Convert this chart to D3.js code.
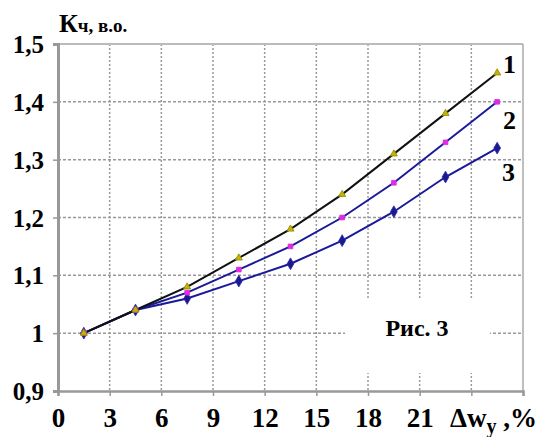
<!DOCTYPE html>
<html><head><meta charset="utf-8">
<script src="https://cdn.jsdelivr.net/npm/d3@7"></script>
<style>body{margin:0;background:#fff}svg{display:block}
svg text{font-family:"Liberation Serif","DejaVu Serif",serif;font-weight:bold}</style>
</head><body><svg id="c" width="544" height="437"></svg>
<script>
const xValues = [1.5, 4.5, 7.5, 10.5, 13.5, 16.5, 19.5, 22.5, 25.5];
const series1 = [1.00, 1.04, 1.08, 1.13, 1.18, 1.24, 1.31, 1.38, 1.45];
const series2 = [1.00, 1.04, 1.07, 1.11, 1.15, 1.20, 1.26, 1.33, 1.40];
const series3 = [1.00, 1.04, 1.06, 1.09, 1.12, 1.16, 1.21, 1.27, 1.32];
const seriesNames = ["1", "2", "3"];
const xTicks = [0, 3, 6, 9, 12, 15, 18, 21, 24, 27];
const xTickLabels = ["0", "3", "6", "9", "12", "15", "18", "21", "", ""];
const yTicks = [0.9, 1.0, 1.1, 1.2, 1.3, 1.4, 1.5];
const yTickLabels = ["0,9", "1", "1,1", "1,2", "1,3", "1,4", "1,5"];

const svg = d3.select("#c");
const L = 58, R = 523, T = 44, B = 391;
const x = d3.scaleLinear().domain([0, 27]).range([L, R]);
const y = d3.scaleLinear().domain([0.9, 1.5]).range([B, T]);

// grid
const g = svg.append("g");
g.selectAll(".vg").data(xTicks.filter(d => d > 0 && d < 27)).enter().append("line")
  .attr("x1", d => x(d)).attr("x2", d => x(d)).attr("y1", T).attr("y2", B)
  .attr("stroke", "#999").attr("stroke-width", 1.5).attr("stroke-dasharray", "2,2");
g.selectAll(".hg").data(yTicks.filter(d => d > 0.95 && d < 1.45)).enter().append("line")
  .attr("x1", L).attr("x2", R).attr("y1", d => y(d)).attr("y2", d => y(d))
  .attr("stroke", "#999").attr("stroke-width", 1.5).attr("stroke-dasharray", "3,2");

// box for figure caption
svg.append("rect").attr("x", 345).attr("y", 300).attr("width", 145).attr("height", 73).attr("fill", "#fff");
svg.append("text").attr("x", 417).attr("y", 336).attr("text-anchor", "middle")
  .attr("font-size", 24).text("Рис. 3");

// frame
svg.append("line").attr("x1", L).attr("x2", R).attr("y1", T).attr("y2", T).attr("stroke", "#bbb").attr("stroke-width", 2);
svg.append("line").attr("x1", R).attr("x2", R).attr("y1", T).attr("y2", B).attr("stroke", "#aaa").attr("stroke-width", 1.5);

// axes
const xAxis = d3.axisBottom(x).tickValues(xTicks).tickSize(5).tickFormat((d, i) => xTickLabels[i]);
const gx = svg.append("g").attr("transform", `translate(0,${B})`).call(xAxis);
gx.attr("font-family", null);
gx.select(".domain").attr("stroke", "#999").attr("stroke-width", 2.5);
gx.selectAll(".tick line").attr("stroke", "#999").attr("stroke-width", 1.5);
gx.selectAll(".tick text").attr("font-size", 27).attr("fill", "#000").attr("dy", 0).attr("y", 36);

const yAxis = d3.axisLeft(y).tickValues(yTicks).tickSize(5).tickFormat((d, i) => yTickLabels[i]);
const gy = svg.append("g").attr("transform", `translate(${L},0)`).call(yAxis);
gy.attr("font-family", null);
gy.select(".domain").attr("stroke", "#999").attr("stroke-width", 3);
gy.selectAll(".tick line").attr("stroke", "#999").attr("stroke-width", 1.5);
gy.selectAll(".tick text").attr("font-size", 25).attr("fill", "#000").attr("x", -14).attr("dy", "0.34em");

// axis titles
const yt = svg.append("text").attr("x", 59).attr("y", 32);
yt.append("tspan").attr("font-size", 26).text("К");
yt.append("tspan").attr("font-size", 19).text("ч, в.о.");

const xt = svg.append("text").attr("x", 450).attr("y", 427).attr("font-size", 27);
xt.append("tspan").text("Δw");
xt.append("tspan").attr("font-size", 20).attr("dy", 6).text("y");
xt.append("tspan").attr("dy", -6).text(" ,%");

// series
const line = d3.line().x((d, i) => x(xValues[i])).y(d => y(d));
const navy = "#1a1a99";
const data = [
  {vals: series3, color: navy, marker: d3.symbolDiamond, msize: 40, mfill: "#1a1a8c", mstroke: "#2a2ab0"},
  {vals: series2, color: navy, marker: d3.symbolSquare, msize: 22, mfill: "#ee22ee", mstroke: "#cc33cc"},
  {vals: series1, color: "#111", marker: d3.symbolTriangle, msize: 22, mfill: "#c8b400", mstroke: "#888800"}
];
data.forEach(s => {
  svg.append("path").attr("d", line(s.vals)).attr("fill", "none").attr("stroke", s.color).attr("stroke-width", 2);
});
data.forEach(s => {
  svg.append("g").selectAll("path").data(s.vals).enter().append("path")
    .attr("d", d3.symbol().type(s.marker).size(s.msize))
    .attr("transform", (d, i) => `translate(${x(xValues[i])},${y(d)})`)
    .attr("fill", s.mfill).attr("stroke", s.mstroke).attr("stroke-width", 0.8);
});
// series labels
const labelPos = [[503, 73], [503, 129], [502, 181]];
svg.selectAll(".sl").data(seriesNames).enter().append("text")
  .attr("x", (d, i) => labelPos[i][0]).attr("y", (d, i) => labelPos[i][1])
  .attr("font-size", 26).text(d => d);
</script></body></html>
